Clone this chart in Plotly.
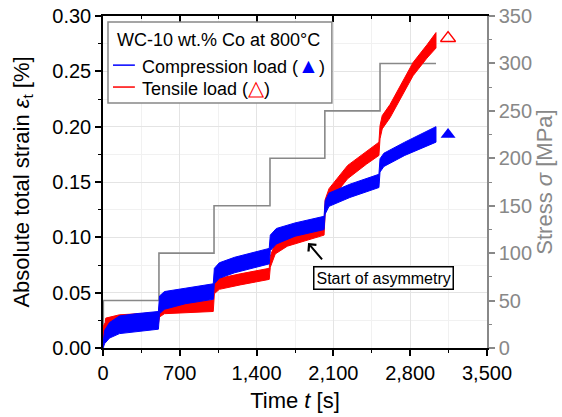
import plotly.graph_objects as go

# ---------------- data ----------------
# Compression load (blue) strain band [%]
comp_t = [0, 15, 60, 150, 300, 505, 515, 560, 750, 1005, 1015, 1060, 1200, 1515,
          1525, 1580, 1750, 2015, 2025, 2060, 2250, 2515, 2525, 2560, 2750, 3035]
comp_lo = [0.000, 0.004, 0.009, 0.013, 0.015, 0.017, 0.031, 0.035, 0.040, 0.044, 0.058, 0.063, 0.068, 0.076,
           0.088, 0.094, 0.101, 0.107, 0.121, 0.128, 0.136, 0.145, 0.159, 0.164, 0.174, 0.186]
comp_hi = [0.004, 0.016, 0.023, 0.029, 0.031, 0.033, 0.047, 0.051, 0.054, 0.058, 0.072, 0.077, 0.082, 0.090,
           0.102, 0.108, 0.113, 0.119, 0.133, 0.140, 0.148, 0.157, 0.171, 0.176, 0.186, 0.200]

# Tensile load (red) strain band [%]
tens_t = [0, 20, 25, 150, 505, 515, 560, 1005, 1015, 1060, 1250, 1515, 1525, 1570, 1680, 2015,
          2025, 2060, 2230, 2400, 2515, 2525, 2545, 2616, 2707, 2826, 2953, 3035]
tens_lo = [0.009, 0.013, 0.017, 0.020, 0.022, 0.028, 0.031, 0.033, 0.049, 0.053, 0.057, 0.062,
           0.073, 0.085, 0.092, 0.102, 0.122, 0.132, 0.153, 0.166, 0.174, 0.189, 0.198, 0.208,
           0.225, 0.246, 0.262, 0.271]
tens_hi = [0.019, 0.023, 0.027, 0.030, 0.032, 0.038, 0.041, 0.043, 0.059, 0.063, 0.067, 0.072,
           0.083, 0.095, 0.102, 0.112, 0.134, 0.144, 0.165, 0.178, 0.186, 0.201, 0.210, 0.220,
           0.237, 0.258, 0.274, 0.285]

# Applied stress steps [MPa]
stress_t = [0, 3, 510, 1012, 1522, 2022, 2525, 3035]
stress_v = [0, 50, 100, 150, 200, 250, 300, 300]

# End-of-test markers
mark_t = [3145]
mark_comp = [0.193]
mark_tens = [0.280]

x_ticks = [0, 700, 1400, 2100, 2800, 3500]

FONT = "Liberation Sans, Arial, sans-serif"
BLUE = "#0000FF"
RED = "#FF0000"
GRAY = "#888888"

fig = go.Figure()

# stress (primary y, right side)
fig.add_trace(go.Scatter(x=stress_t, y=stress_v, mode="lines", line=dict(color=GRAY, width=1.6, shape="hv"),
                         xaxis="x", yaxis="y", showlegend=False, hoverinfo="skip"))

def band(t, lo, hi, color):
    return go.Scatter(x=t + t[::-1], y=hi + lo[::-1], mode="lines", fill="toself", fillcolor=color,
                      line=dict(color=color, width=1), xaxis="x", yaxis="y2", showlegend=False,
                      hoverinfo="skip")

fig.add_trace(band(tens_t, tens_lo, tens_hi, RED))
fig.add_trace(band(comp_t, comp_lo, comp_hi, BLUE))

fig.add_trace(go.Scatter(x=mark_t, y=mark_tens, mode="markers",
                         marker=dict(symbol="triangle-up-open", size=13, color=RED, line=dict(width=1.5)),
                         xaxis="x", yaxis="y2", showlegend=False, hoverinfo="skip"))
fig.add_trace(go.Scatter(x=mark_t, y=mark_comp, mode="markers",
                         marker=dict(symbol="triangle-up", size=13, color=BLUE),
                         xaxis="x", yaxis="y2", showlegend=False, hoverinfo="skip"))
# dummy trace for top axis
fig.add_trace(go.Scatter(x=[None], y=[None], xaxis="x2", yaxis="y", showlegend=False, hoverinfo="skip"))

tickfont = dict(family=FONT, size=20, color="#000")
fig.update_layout(
    template="none",
    width=562, height=417,
    margin=dict(l=103, r=75, t=16, b=69, autoexpand=False),
    paper_bgcolor="white", plot_bgcolor="white",
    font=dict(family=FONT, color="#000"),
    showlegend=False,
    xaxis=dict(range=[0, 3500], tickvals=x_ticks, tickformat=",", ticks="outside", ticklen=6, tickwidth=1.5,
               tickcolor="#000", showline=True, linecolor="#000", linewidth=1.5, zeroline=False,
               automargin=False,
               showgrid=True, gridcolor="#e4e4e4", gridwidth=1, tickfont=tickfont,
               minor=dict(dtick=350, ticks="outside", ticklen=3, tickwidth=1.2, tickcolor="#000",
                          showgrid=True, gridcolor="#f1f1f1"),
               title=dict(text="Time <i>t</i> [s]", font=dict(family=FONT, size=22), standoff=10)),
    xaxis2=dict(range=[0, 3500], overlaying="x", side="top", anchor="y", tickvals=x_ticks,
                showticklabels=False, ticks="inside", ticklen=6, tickwidth=1.5, tickcolor="#000",
                showline=True, linecolor="#000", linewidth=1.5, showgrid=False, zeroline=False,
                automargin=False,
                minor=dict(dtick=350, ticks="inside", ticklen=3, tickwidth=1.2, tickcolor="#000")),
    yaxis=dict(range=[0, 350], side="right", dtick=50, ticks="outside", ticklen=6, tickwidth=1.5,
               tickcolor=GRAY, showline=True, linecolor=GRAY, linewidth=1.5, showgrid=False, zeroline=False,
               automargin=False,
               tickfont=dict(family=FONT, size=20, color=GRAY),
               minor=dict(dtick=25, ticks="outside", ticklen=3, tickwidth=1.2, tickcolor=GRAY),
               title=dict(text="Stress <i>σ</i> [MPa]", font=dict(family=FONT, size=22, color=GRAY), standoff=5)),
    yaxis2=dict(range=[0, 0.30], overlaying="y", side="left", anchor="x", dtick=0.05, tickformat=".2f",
                ticks="outside", ticklen=6, tickwidth=1.5, tickcolor="#000", showline=True, linecolor="#000",
                linewidth=1.5, zeroline=False, showgrid=True, gridcolor="#e4e4e4", tickfont=tickfont,
                automargin=False,
                minor=dict(dtick=0.025, ticks="outside", ticklen=3, tickwidth=1.2, tickcolor="#000",
                           showgrid=True, gridcolor="#f1f1f1"),
                title=dict(text="Absolute total strain <i>ε</i><sub>t</sub> [%]",
                           font=dict(family=FONT, size=22), standoff=17)),
)

# legend box (manual)
fig.add_shape(type="rect", xref="paper", yref="paper", x0=0.013, x1=0.596, y0=0.738, y1=0.982,
              line=dict(color=GRAY, width=1.5), fillcolor="white", layer="above")
fig.add_shape(type="line", xref="paper", yref="paper", x0=0.026, x1=0.083, y0=0.852, y1=0.852,
              line=dict(color=BLUE, width=1.5), layer="above")
fig.add_shape(type="line", xref="paper", yref="paper", x0=0.026, x1=0.083, y0=0.786, y1=0.786,
              line=dict(color=RED, width=1.5), layer="above")
legfont = dict(family=FONT, size=18, color="#000")
fig.add_annotation(xref="paper", yref="paper", x=0.031, y=0.928, xanchor="left", yanchor="middle",
                   text="WC-10 wt.% Co at 800°C", showarrow=False, font=legfont)
fig.add_annotation(xref="paper", yref="paper", x=0.096, y=0.852, xanchor="left", yanchor="middle",
                   text="Compression load (<span style='color:#0000FF;font-size:21px'>▲</span>)",
                   showarrow=False, font=legfont)
fig.add_annotation(xref="paper", yref="paper", x=0.096, y=0.786, xanchor="left", yanchor="middle",
                   text="Tensile load (<span style='color:#FF0000;font-size:21px'>△</span>)",
                   showarrow=False, font=legfont)

# "Start of asymmetry" label + arrow
fig.add_annotation(x=2561, y=0.0633, xref="x", yref="y2", text="Start of asymmetry", showarrow=False,
                   font=dict(family=FONT, size=16, color="#000"), bgcolor="white",
                   bordercolor="#000", borderwidth=1.5, borderpad=2)
fig.add_annotation(x=1869, y=0.0949, xref="x", yref="y2", text=" ", showarrow=True, ax=17, ay=20,
                   arrowhead=4, arrowsize=1, arrowwidth=2, arrowcolor="#000")

fig.write_html("out.html")
